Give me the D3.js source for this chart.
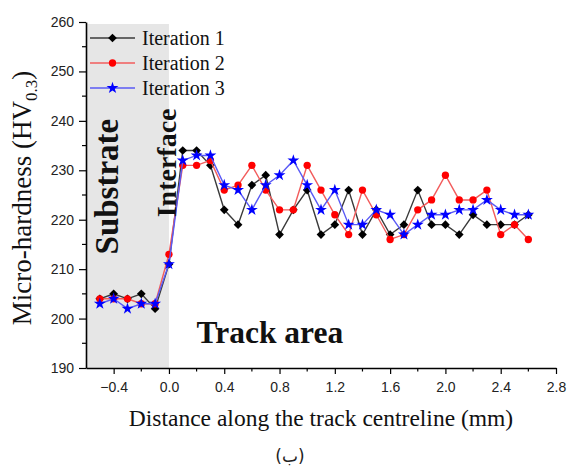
<!DOCTYPE html>
<html>
<head>
<meta charset="utf-8">
<script src="https://cdnjs.cloudflare.com/ajax/libs/d3/7.8.5/d3.min.js"></script>
<style>
  html, body { margin: 0; padding: 0; background: #fff; }
  svg { display: block; }
  .tick text { font-family: "Liberation Sans", Arial, sans-serif; font-size: 14px; fill: #222; }
  .serif { font-family: "Liberation Serif", "Times New Roman", serif; fill: #111; }
</style>
</head>
<body>
<svg id="chart" width="569" height="467"></svg>
<script>
/* global d3 */
const WIDTH = 569;
const HEIGHT = 467;
const MARGIN = { top: 22, right: 13, bottom: 99, left: 86 };

// distance along the track (mm), one reading every 0.1 mm
const distance = [-0.5, -0.4, -0.3, -0.2, -0.1, 0.0, 0.1, 0.2, 0.3, 0.4, 0.5, 0.6, 0.7, 0.8, 0.9, 1.0,
  1.1, 1.2, 1.3, 1.4, 1.5, 1.6, 1.7, 1.8, 1.9, 2.0, 2.1, 2.2, 2.3, 2.4, 2.5, 2.6];

const iteration1 = [204, 205, 204, 205, 202, 211, 234, 234, 231, 222, 219, 227, 229, 217, 222, 226,
  217, 219, 226, 217, 222, 217, 219, 226, 219, 219, 217, 221, 219, 219, 219, 221];
const iteration2 = [204, 204, 204, 203, 203, 213, 231, 231, 232, 226, 227, 231, 226, 222, 222, 231,
  226, 221, 217, 226, 221, 216, 217, 222, 224, 229, 224, 224, 226, 217, 219, 216];
const iteration3 = [203, 204, 202, 203, 203, 211, 232, 233, 233, 227, 226, 222, 227, 229, 232, 227,
  222, 226, 219, 219, 222, 221, 217, 219, 221, 221, 222, 222, 224, 222, 221, 221];

const seriesNames = ['Iteration 1', 'Iteration 2', 'Iteration 3'];
const xTicks = [-0.4, 0.0, 0.4, 0.8, 1.2, 1.6, 2.0, 2.4, 2.8];
const yTicks = [190, 200, 210, 220, 230, 240, 250, 260];

const X_DOMAIN = [-0.6, 2.8];
const Y_DOMAIN = [190, 260];
const SUBSTRATE = [-0.6, 0.0];

const series = [
  { name: seriesNames[0], values: iteration1, line: '#3a3a3a', mark: '#000', symbol: 'diamond' },
  { name: seriesNames[1], values: iteration2, line: '#f25c5c', mark: '#f00', symbol: 'circle' },
  { name: seriesNames[2], values: iteration3, line: '#5a5af5', mark: '#00f', symbol: 'star' }
];

const width = WIDTH - MARGIN.left - MARGIN.right;
const height = HEIGHT - MARGIN.top - MARGIN.bottom;

const $svg = d3.select('#chart');
const $g = $svg.append('g').attr('transform', `translate(${MARGIN.left},${MARGIN.top})`);

const scaleX = d3.scaleLinear().domain(X_DOMAIN).range([0, width]);
const scaleY = d3.scaleLinear().domain(Y_DOMAIN).range([height, 0]);

// grey band over the substrate side
$g.append('rect')
  .attr('x', scaleX(SUBSTRATE[0]))
  .attr('y', scaleY(259.6))
  .attr('width', scaleX(SUBSTRATE[1]) - scaleX(SUBSTRATE[0]))
  .attr('height', scaleY(190) - scaleY(259.6))
  .attr('fill', '#e6e6e6');

function markPath(symbol, size) {
  if (symbol === 'diamond') return d3.symbol(d3.symbolSquare, size)();
  if (symbol === 'star') return d3.symbol(d3.symbolStar, size)();
  return d3.symbol(d3.symbolCircle, size)();
}

function drawMark(sel, s) {
  const size = s.symbol === 'star' ? 44 : (s.symbol === 'diamond' ? 38 : 42);
  const rot = s.symbol === 'diamond' ? ' rotate(45)' : '';
  sel.append('path')
    .attr('d', markPath(s.symbol, size))
    .attr('fill', s.mark)
    .attr('transform', d => `translate(${d[0]},${d[1]})${rot}`);
}

const line = d3.line().x(d => d[0]).y(d => d[1]);

series.forEach(s => {
  const pts = distance.map((x, i) => [scaleX(x), scaleY(s.values[i])]);
  const $s = $g.append('g').attr('class', 'series');
  $s.append('path')
    .datum(pts)
    .attr('d', line)
    .attr('fill', 'none')
    .attr('stroke', s.line)
    .attr('stroke-width', 1.4);
  $s.selectAll('.mark')
    .data(pts)
    .join(enter => {
      const g = enter.append('g').attr('class', 'mark');
      drawMark(g, s);
      return g;
    });
});

// axes
const axisX = d3.axisBottom(scaleX).tickValues(xTicks).tickFormat(d3.format('.1f'))
  .tickSize(6).tickSizeOuter(0).tickPadding(8);
const axisY = d3.axisLeft(scaleY).tickValues(yTicks).tickFormat(d3.format('d'))
  .tickSize(7).tickSizeOuter(0).tickPadding(5);

const $minor = $g.append('g').attr('class', 'minor');
$minor.selectAll('line.mx')
  .data(d3.range(-0.2, 2.8, 0.4))
  .join('line')
  .attr('x1', d => scaleX(d)).attr('x2', d => scaleX(d))
  .attr('y1', height).attr('y2', height + 3.5)
  .attr('stroke', '#000').attr('stroke-width', 1.2);
$minor.selectAll('line.my')
  .data(d3.range(195, 260, 10))
  .join('line')
  .attr('x1', 0).attr('x2', -4)
  .attr('y1', d => scaleY(d)).attr('y2', d => scaleY(d))
  .attr('stroke', '#000').attr('stroke-width', 1.2);

const $ax = $g.append('g').attr('transform', `translate(0,${height})`).call(axisX);
const $ay = $g.append('g').call(axisY);
[$ax, $ay].forEach($a => {
  $a.attr('font-size', null).attr('font-family', null);
  $a.select('.domain').attr('stroke', '#000').attr('stroke-width', 1.6);
  $a.selectAll('.tick line').attr('stroke', '#000').attr('stroke-width', 1.2);
});

// axis titles
$svg.append('text')
  .attr('class', 'serif')
  .attr('x', MARGIN.left + width / 2)
  .attr('y', 426)
  .attr('text-anchor', 'middle')
  .attr('font-size', 23.5)
  .text('Distance along the track centreline (mm)');

const $yTitle = $svg.append('text')
  .attr('class', 'serif')
  .attr('transform', `translate(31,${MARGIN.top + scaleY(224.4)}) rotate(-90)`)
  .attr('text-anchor', 'middle')
  .attr('font-size', 27);
$yTitle.append('tspan').text('Micro-hardness (HV');
$yTitle.append('tspan').attr('font-size', 17).attr('dy', 6).text('0.3');
$yTitle.append('tspan').attr('dy', -6).text(')');

// region labels
$g.append('text')
  .attr('class', 'serif')
  .attr('transform', `translate(${scaleX(-0.37)},${scaleY(226.7)}) rotate(-90)`)
  .attr('text-anchor', 'middle')
  .attr('font-weight', 'bold')
  .attr('font-size', 33)
  .text('Substrate');

$g.append('text')
  .attr('class', 'serif')
  .attr('transform', `translate(${scaleX(0.05)},${scaleY(231.5)}) rotate(-90)`)
  .attr('text-anchor', 'middle')
  .attr('font-weight', 'bold')
  .attr('font-size', 28)
  .text('Interface');

$g.append('text')
  .attr('class', 'serif')
  .attr('x', scaleX(0.2))
  .attr('y', scaleY(195))
  .attr('font-weight', 'bold')
  .attr('font-size', 31.5)
  .text('Track area');

// legend
const $legend = $svg.append('g').attr('transform', 'translate(90,38)');
series.forEach((s, i) => {
  const $row = $legend.append('g').attr('transform', `translate(0,${i * 25})`);
  $row.append('line')
    .attr('x1', 0).attr('x2', 45)
    .attr('stroke', s.line).attr('stroke-width', 1.4);
  drawMark($row.datum([22.5, 0]), s);
  $row.append('text')
    .attr('class', 'serif')
    .attr('x', 52)
    .attr('y', 7)
    .attr('font-size', 20)
    .text(s.name);
});

// panel tag
$svg.append('text')
  .attr('x', 290)
  .attr('y', 462)
  .attr('text-anchor', 'middle')
  .attr('font-family', '"DejaVu Sans", sans-serif')
  .attr('font-size', 17)
  .attr('fill', '#222')
  .text('(ب)');
</script>
</body>
</html>
